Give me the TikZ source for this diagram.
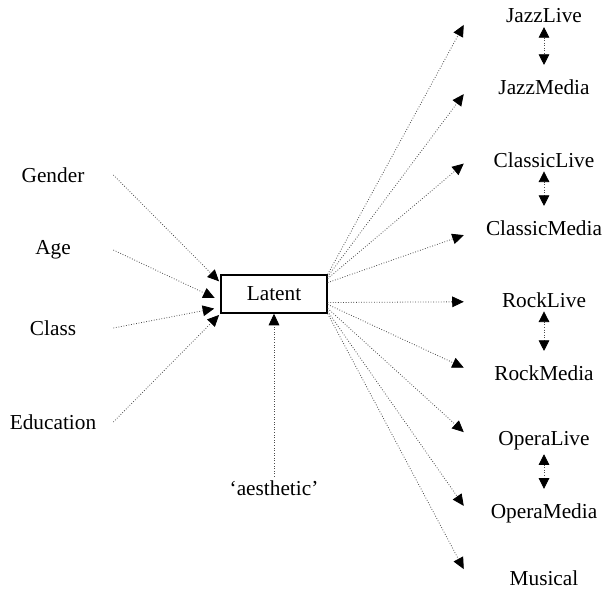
\documentclass[tikz,border=0pt]{standalone}
\usepackage{fontspec}
\setmainfont{Liberation Serif}
\usetikzlibrary{arrows.meta}

\begin{document}
\begin{tikzpicture}
    [%%%%%%%%%%%%%%%%%%%%%%%%%%%%%%
        x=0.5634pt,y=-0.5634pt,
        lbl/.style={inner sep=2pt,font=\fontsize{12}{14}\selectfont},
        inp/.style={lbl,minimum width=67.6pt},
        outp/.style={lbl,minimum width=90pt},
        latbox/.style={lbl,draw=black,line width=0.8pt,minimum width=59.7pt,minimum height=21.4pt},
        lnk/.style={densely dotted,draw=black!70,line width=0.45pt,
            -{Triangle[length=6.5pt,width=6pt,color=black]}},
        dbl/.style={densely dotted,draw=black!70,line width=0.45pt,
            {Triangle[length=6pt,width=6pt,color=black]}-{Triangle[length=6pt,width=6pt,color=black]},
            shorten >=6pt},
    ]%%%%%%%%%%%%%%%%%%%%%%%%%%%%%%

\useasboundingbox (0,0) rectangle (602,591);

\node[latbox] (lat) at (274,294) {Latent};

\node[inp] (gen) at (53,175) {Gender};
\node[inp] (age) at (53,250) {Age};
\node[inp] (cls) at (53,328) {Class};
\node[inp] (edu) at (53,422) {Education};

\node[lbl] (aes) at (274,488) {`aesthetic'};

\foreach \nm/\txt/\y in {jl/JazzLive/16, jm/JazzMedia/87, cl/ClassicLive/160, cm/ClassicMedia/228,
	rl/RockLive/300, rm/RockMedia/373, ol/OperaLive/441, om/OperaMedia/513, mu/Musical/578}{
	\node[outp] (\nm) at (544,\y) {\txt};
}

\draw[lnk,shorten >=1pt] (gen.east) -- (lat.168);
\draw[lnk,shorten >=3.5pt] (age.east) -- (lat.187);
\draw[lnk,shorten >=3.5pt] (cls.east) -- (lat.194);
\draw[lnk,shorten >=1pt] (edu.east) -- (lat.south west);
\draw[lnk] (aes) -- (lat);

\foreach \nm/\a/\dy in {jl/north east/-5, jm/18/-4, cl/16/-2, cm/12/-4, rl/-9/-1,
	rm/-11/3, ol/-15/5, om/-18/4, mu/south east/5}{
	\draw[lnk] (lat.\a) -- ([yshift=\dy pt]\nm.west);
}

\foreach \a/\b in {jl/jm, cl/cm, rl/rm, ol/om}{
	\draw[dbl] (\a) -- (\b);
}

\end{tikzpicture}
\end{document}
